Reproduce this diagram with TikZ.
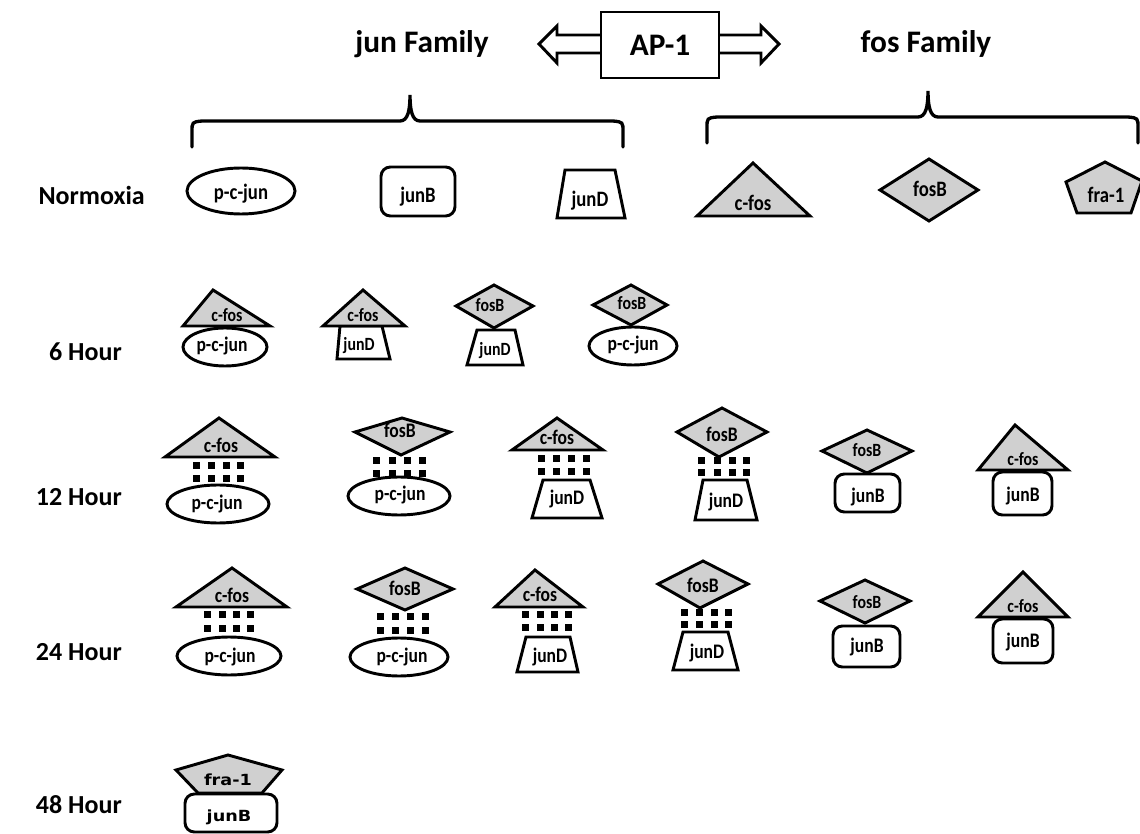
\documentclass[tikz,border=0pt]{standalone}
\usepackage{fontspec}
\setmainfont{Carlito}
\newfontfamily\labfont[FakeStretch=0.85]{Carlito}
\newfontfamily\widefont[FakeStretch=1.15]{DejaVu Sans}
\usetikzlibrary{calc}
\definecolor{fosgray}{RGB}{208,208,208}
\tikzset{
  outline/.style={draw=black,line width=2.2pt,line join=miter},
  junshape/.style={outline,fill=white},
  fosshape/.style={outline,fill=fosgray},
  bracestyle/.style={draw=black,line width=2.5pt,line cap=round},
  headtext/.style={font=\bfseries\fontsize{23.5}{28}\selectfont,inner sep=0pt,anchor=base},
  rowtext/.style={font=\bfseries\fontsize{19.5}{24}\selectfont,inner sep=0pt,anchor=base east},
  mol/.style={font=\labfont\bfseries\fontsize{15.5}{18}\selectfont,inner sep=0pt,anchor=base},
  molbig/.style={mol,font=\labfont\bfseries\fontsize{16.5}{19}\selectfont},
  molsmall/.style={mol,font=\labfont\bfseries\fontsize{14}{16}\selectfont},
  molwide/.style={font=\widefont\bfseries\fontsize{11.5}{14}\selectfont,inner sep=0pt,anchor=base},
}
% eight small squares between the two partners of a dimer
\newcommand\dimerdots[6]{%
  \foreach \xx in {#1,#2,#3,#4}{%
    \fill (\xx,#5) rectangle ++(7,7);
    \fill (\xx,#6) rectangle ++(7,7);}}
\begin{document}
\begin{tikzpicture}[x=0.75pt,y=-0.75pt]
\useasboundingbox (0,0) rectangle (1140,834);

% ---------- header ----------
\node[headtext] (junfam) at (422,53) {jun Family};
\node[headtext] (fosfam) at (926,53) {fos Family};
\node[draw=black,line width=2.2pt,minimum width=88.5pt,minimum height=49.5pt,
      outer sep=0pt,inner sep=0pt,font=\bfseries\fontsize{23.5}{28}\selectfont]
      (ap1) at (660,45) {AP-1};
\draw[outline] ($(ap1.west)+(0,-10)$) -- ++(-44,0) -- ++(0,-9) -- ++(-18,18)
      -- ++(18,19) -- ++(0,-10) -- ++(44,0);
\draw[outline] ($(ap1.east)+(0,-10)$) -- ++(42,0) -- ++(0,-9) -- ++(18,18)
      -- ++(-18,19) -- ++(0,-10) -- ++(-42,0);

% braces
\draw[bracestyle] (192,147) -- (192,132) .. controls (192,122) .. (202,121) -- (400,121)
   .. controls (408,121) and (410,110) .. (410,95) .. controls (410,110) and (412,121) .. (420,121)
   -- (613,121) .. controls (623,122) .. (623,132) -- (623,147);
\draw[bracestyle] (707,143) -- (707,128) .. controls (707,118) .. (717,117) -- (918,117)
   .. controls (926,117) and (928,106) .. (928,91) .. controls (928,106) and (930,117) .. (938,117)
   -- (1128,117) .. controls (1138,118) .. (1138,128) -- (1138,143);

% ---------- row labels ----------
\node[rowtext] (rn)  at (145,205) {Normoxia};
\node[rowtext] (r6)  at (122,361) {6 Hour};
\node[rowtext] (r12) at (122,505) {12 Hour};
\node[rowtext] (r24) at (122,660) {24 Hour};
\node[rowtext] (r48) at (122,813) {48 Hour};

% ---------- normoxia: single proteins ----------
\draw[junshape] (241,191) ellipse [x radius=54,y radius=23];
\node[molbig] (n1) at (241,200) {p-c-jun};
\draw[junshape,rounded corners=7pt] (381,167) rectangle (455,216);
\node[molbig] (n2) at (418,203) {junB};
\draw[junshape] (565,170) -- (615,170) -- (625,218) -- (557,218) -- cycle;
\node[molbig] (n3) at (590,207) {junD};
\draw[fosshape] (753,163) -- (810,216) -- (697,216) -- cycle;
\node[molbig] (n4) at (753,211) {c-fos};
\draw[fosshape] (880,190) -- (929,159) -- (978,190) -- (929,221) -- cycle;
\node[molbig] (n5) at (930,197) {fosB};
\draw[fosshape] (1105,162) -- (1142,181) -- (1131,213) -- (1077,213) -- (1066,182) -- cycle;
\node[molbig] (n6) at (1106,203) {fra-1};

% ---------- 6 hour ----------
\draw[junshape] (225,347) ellipse [x radius=42,y radius=19];
\draw[fosshape] (213,290) -- (270,326) -- (183,326) -- cycle;
\node[molsmall] (a1) at (227,322) {c-fos};
\node[mol] (a2) at (222,352) {p-c-jun};

\draw[junshape] (340,326) -- (382,326) -- (390,359) -- (337,359) -- cycle;
\draw[fosshape] (363,290) -- (405,326) -- (323,326) -- cycle;
\node[molsmall] (a3) at (363,322) {c-fos};
\node[molsmall] (a4) at (359,351) {junD};

\draw[junshape] (477,330) -- (515,330) -- (523,365) -- (467,365) -- cycle;
\draw[fosshape] (456,306) -- (494,285) -- (533,306) -- (494,328) -- cycle;
\node[molsmall] (a5) at (490,312) {fosB};
\node[molsmall] (a6) at (495,356) {junD};

\draw[junshape] (633,346) ellipse [x radius=44,y radius=19];
\draw[fosshape] (593,305) -- (631,285) -- (667,305) -- (631,325) -- cycle;
\node[molsmall] (a7) at (632,310) {fosB};
\node[mol] (a8) at (633,351) {p-c-jun};

% ---------- 12 hour ----------
\draw[fosshape] (219,418) -- (275,457) -- (165,457) -- cycle;
\dimerdots{193}{208}{223}{237}{462}{475}
\draw[junshape] (218,504) ellipse [x radius=51,y radius=19];
\node[mol] (b1) at (221,453) {c-fos};
\node[mol] (b2) at (217,509) {p-c-jun};

\draw[fosshape] (355,432) -- (402,418) -- (450,432) -- (401,455) -- cycle;
\dimerdots{373}{389}{404}{419}{457}{470}
\draw[junshape] (399,496) ellipse [x radius=51,y radius=19];
\node[mol] (b3) at (400,438) {fosB};
\node[mol] (b4) at (400,501) {p-c-jun};

\draw[fosshape] (557,418) -- (603,450) -- (512,450) -- cycle;
\dimerdots{538}{553}{568}{583}{455}{468}
\draw[junshape] (543,480) -- (590,480) -- (602,518) -- (532,518) -- cycle;
\node[mol] (b5) at (557,445) {c-fos};
\node[mol] (b6) at (567,504) {junD};

\draw[fosshape] (677,432) -- (722,408) -- (767,432) -- (719,457) -- cycle;
\dimerdots{698}{714}{729}{743}{457}{469}
\draw[junshape] (703,480) -- (747,480) -- (757,520) -- (695,520) -- cycle;
\node[mol] (b7) at (722,442) {fosB};
\node[mol] (b8) at (726,508) {junD};

\draw[junshape,rounded corners=7pt] (835,474) rectangle (900,512);
\draw[fosshape] (822,451) -- (867,430) -- (912,451) -- (867,473) -- cycle;
\node[molsmall] (b9) at (867,457) {fosB};
\node[mol] (b10) at (868,503) {junB};

\draw[junshape,rounded corners=7pt] (993,472) rectangle (1052,515);
\draw[fosshape] (1015,425) -- (1068,470) -- (978,470) -- cycle;
\node[molsmall] (b11) at (1023,465) {c-fos};
\node[mol] (b12) at (1023,502) {junB};

% ---------- 24 hour ----------
\draw[fosshape] (232,568) -- (287,607) -- (176,607) -- cycle;
\dimerdots{204}{219}{233}{247}{611}{625}
\draw[junshape] (229,656) ellipse [x radius=52,y radius=19];
\node[mol] (c1) at (232,602) {c-fos};
\node[mol] (c2) at (230,662) {p-c-jun};

\draw[fosshape] (357,589) -- (405,568) -- (453,589) -- (405,610) -- cycle;
\dimerdots{377}{392}{407}{422}{613}{627}
\draw[junshape] (399,657) ellipse [x radius=49,y radius=19];
\node[mol] (c3) at (405,595) {fosB};
\node[mol] (c4) at (402,662) {p-c-jun};

\draw[fosshape] (535,570) -- (583,607) -- (495,607) -- cycle;
\dimerdots{522}{537}{551}{565}{611}{624}
\draw[junshape] (526,637) -- (570,637) -- (578,672) -- (517,672) -- cycle;
\node[mol] (c5) at (540,601) {c-fos};
\node[mol] (c6) at (550,662) {junD};

\draw[fosshape] (658,584) -- (703,561) -- (748,584) -- (700,608) -- cycle;
\dimerdots{681}{696}{711}{725}{609}{621}
\draw[junshape] (683,632) -- (728,632) -- (738,670) -- (673,670) -- cycle;
\node[mol] (c7) at (703,592) {fosB};
\node[mol] (c8) at (707,658) {junD};

\draw[junshape,rounded corners=7pt] (833,626) rectangle (900,667);
\draw[fosshape] (820,601) -- (865,580) -- (910,601) -- (865,623) -- cycle;
\node[molsmall] (c9) at (867,608) {fosB};
\node[mol] (c10) at (867,652) {junB};

\draw[junshape,rounded corners=7pt] (993,619) rectangle (1053,663);
\draw[fosshape] (1023,572) -- (1068,617) -- (978,617) -- cycle;
\node[molsmall] (c11) at (1023,612) {c-fos};
\node[mol] (c12) at (1023,647) {junB};

% ---------- 48 hour ----------
\draw[junshape,rounded corners=7pt] (185,794) rectangle (277,832);
\draw[fosshape] (228,755) -- (282,770) -- (262,793) -- (198,793) -- (176,770) -- cycle;
\node[molwide] (d1) at (228,785) {fra-1};
\node[molwide] (d2) at (229,821) {junB};
\end{tikzpicture}
\end{document}
